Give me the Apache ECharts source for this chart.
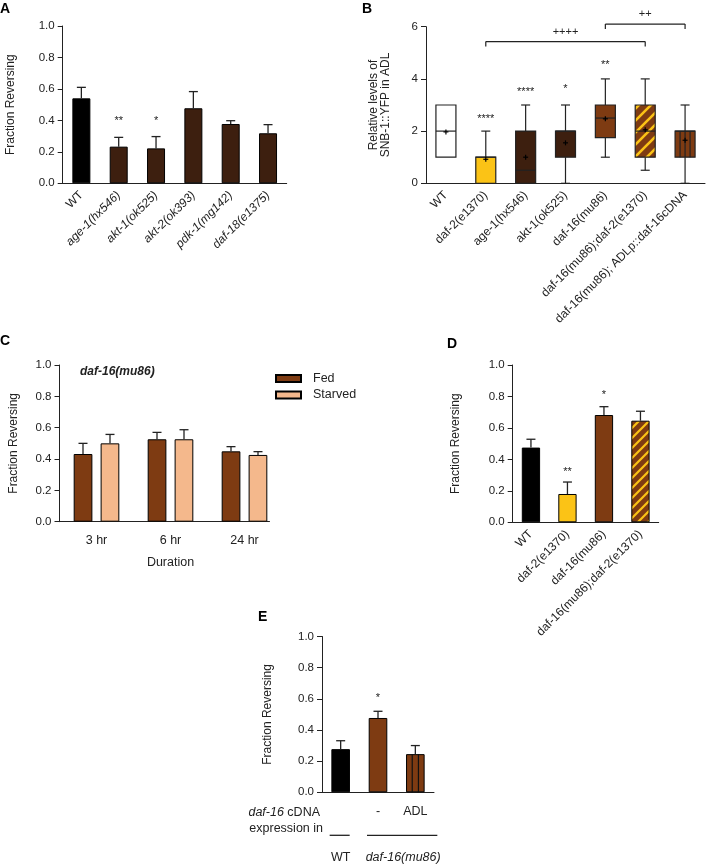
<!DOCTYPE html>
<html><head><meta charset="utf-8">
<script src="https://cdn.jsdelivr.net/npm/echarts@6/dist/echarts.min.js"></script>
<style>html,body{margin:0;padding:0;background:#fff}#c{width:709px;height:865px}</style>
</head><body><div id="c"></div>
<script>
// ---------------- DATA ----------------
// Panel A
const catsA = ['WT', 'age-1(hx546)', 'akt-1(ok525)', 'akt-2(ok393)', 'pdk-1(mg142)', 'daf-18(e1375)'];
const meanA = [0.540, 0.233, 0.222, 0.477, 0.377, 0.318];
const semA  = [0.070, 0.059, 0.075, 0.106, 0.021, 0.055];
const starsA = ['', '**', '*', '', '', ''];
const starYA = [0, 0.413, 0.413, 0, 0, 0];

// Panel B (box plots)
const catsB = ['WT', 'daf-2(e1370)', 'age-1(hx546)', 'akt-1(ok525)', 'daf-16(mu86)', 'daf-16(mu86);daf-2(e1370)', 'daf-16(mu86); ADLp::daf-16cDNA'];
const minB  = [1, 0, 0, 0, 1, 0.5, 0];
const q1B   = [1, 0, 0, 1, 1.75, 1, 1];
const medB  = [2, 1, 0.5, 2, 2.5, 2, 2];
const q3B   = [3, 1, 2, 2, 3, 3, 2];
const maxB  = [3, 2, 3, 3, 4, 4, 3];
const meanB = [1.97, 0.92, 1.0, 1.55, 2.47, 2.05, 1.65];
const starsB = ['', '****', '****', '*', '**', '', ''];
const starYB = [0, 2.59, 3.6, 3.73, 4.66, 0, 0];
const bracketFromB = [1, 4];
const bracketToB   = [5, 6];
const bracketYB    = [5.43, 6.1];
const bracketTxtB  = ['++++', '++'];

// Panel C
const catsC = ['3 hr', '6 hr', '24 hr'];
const fedC = [0.432, 0.526, 0.449];
const fedSemC = [0.068, 0.044, 0.030];
const starvedC = [0.500, 0.526, 0.426];
const starvedSemC = [0.057, 0.061, 0.021];

// Panel D
const catsD = ['WT', 'daf-2(e1370)', 'daf-16(mu86)', 'daf-16(mu86);daf-2(e1370)'];
const meanD = [0.475, 0.180, 0.682, 0.646];
const semD  = [0.053, 0.076, 0.053, 0.060];
const starsD = ['', '**', '*', ''];
const starYD = [0, 0.337, 0.83, 0];

// Panel E
const catsE = ['', '-', 'ADL'];
const meanE = [0.277, 0.477, 0.245];
const semE  = [0.054, 0.043, 0.055];
const starsE = ['', '*', ''];
const starYE = [0, 0.624, 0];
const groupNamesE = ['WT', 'daf-16(mu86)'];
const groupFromE = [0, 1];
const groupToE = [0, 2];

// ---------------- STYLE ----------------
const FONT = "'Liberation Sans', Arial, Helvetica, sans-serif";
const INK = '#222';
const BLACK = '#000';
const DARK = '#3d1f0f';
const BROWN = '#7e3b12';
const YELLOW = '#fbc316';
const PEACH = '#f4b88c';

function stripes(p, lw) {
  const c = document.createElement('canvas');
  c.width = p; c.height = p;
  const g = c.getContext('2d');
  g.fillStyle = BROWN; g.fillRect(0, 0, p, p);
  g.strokeStyle = YELLOW; g.lineWidth = lw;
  g.beginPath();
  g.moveTo(-1, p + 1); g.lineTo(p + 1, -1);
  g.moveTo(-p / 2 - 1, p / 2 + 1); g.lineTo(p / 2 + 1, -p / 2 - 1);
  g.moveTo(p / 2 - 1, 3 * p / 2 + 1); g.lineTo(3 * p / 2 + 1, p / 2 - 1);
  g.stroke();
  return { image: c, repeat: 'repeat' };
}
const stripeB = stripes(12, 2.6);
const stripeD = stripes(10, 2.2);

const fillsB = ['#ffffff', YELLOW, DARK, DARK, BROWN, stripeB, BROWN];

function yAx(grid, max, interval, name, gap, dec) {
  return {
    type: 'value', gridIndex: grid, min: 0, max: max, interval: interval,
    name: name, nameLocation: 'middle', nameGap: gap,
    nameTextStyle: { fontSize: 12, color: INK, fontFamily: FONT, lineHeight: 12.5 },
    axisLine: { show: true, lineStyle: { color: INK, width: 1 } },
    axisTick: { show: true, length: 5, lineStyle: { color: INK, width: 1 } },
    axisLabel: { fontSize: 11.5, color: INK, fontFamily: FONT, margin: 8,
      formatter: v => dec ? v.toFixed(1) : String(v) },
    splitLine: { show: false }
  };
}
function xAx(grid, cats, rotate, margin, extra) {
  return Object.assign({
    type: 'category', gridIndex: grid, data: cats,
    axisTick: { show: false },
    axisLine: { show: true, lineStyle: { color: INK, width: 1 } },
    axisLabel: { interval: 0, rotate: rotate, margin: margin, fontSize: 12, color: INK, fontFamily: FONT },
    splitLine: { show: false }
  }, extra || {});
}
function errSeries(gi, means, sems, offset) {
  return {
    type: 'custom', xAxisIndex: gi, yAxisIndex: gi, z: 5, clip: false, silent: true,
    data: means.map((m, i) => [i, m, sems[i]]),
    renderItem: (params, api) => {
      const i = api.value(0), m = api.value(1), s = api.value(2);
      const a = api.coord([i, m]), b = api.coord([i, m + s]);
      const x = a[0] + offset;
      const st = { stroke: INK, lineWidth: 1.3 };
      return { type: 'group', children: [
        { type: 'line', shape: { x1: x, y1: a[1], x2: x, y2: b[1] }, style: st },
        { type: 'line', shape: { x1: x - 4.5, y1: b[1], x2: x + 4.5, y2: b[1] }, style: st }
      ]};
    }
  };
}
function starSeries(gi, stars, ys) {
  const idx = [], txt = [];
  stars.forEach((s, i) => { if (s) { idx.push([i, ys[i]]); txt.push(s); } });
  return {
    type: 'custom', xAxisIndex: gi, yAxisIndex: gi, z: 6, clip: false, silent: true,
    data: idx,
    renderItem: (params, api) => {
      const p = api.coord([api.value(0), api.value(1)]);
      return { type: 'text', style: { text: txt[params.dataIndex], x: p[0], y: p[1] + 3,
        align: 'center', verticalAlign: 'middle', fontSize: 11, fontFamily: FONT, fill: INK } };
    }
  };
}
function barData(vals, cats, fillFn) {
  return vals.map((v, i) => ({ value: v, itemStyle: { color: fillFn(cats[i], i) } }));
}
const italicRich = { i: { fontStyle: 'italic', fontSize: 12, color: INK, fontFamily: FONT } };

const option = {
  animation: false,
  backgroundColor: '#fff',
  textStyle: { fontFamily: FONT },
  title: [
    { text: 'A', left: 0, top: 2, padding: 0, textStyle: { fontSize: 14, fontWeight: 'bold', color: '#000', fontFamily: FONT } },
    { text: 'B', left: 362, top: 2, padding: 0, textStyle: { fontSize: 14, fontWeight: 'bold', color: '#000', fontFamily: FONT } },
    { text: 'C', left: 0, top: 334, padding: 0, textStyle: { fontSize: 14, fontWeight: 'bold', color: '#000', fontFamily: FONT } },
    { text: 'D', left: 447, top: 337, padding: 0, textStyle: { fontSize: 14, fontWeight: 'bold', color: '#000', fontFamily: FONT } },
    { text: 'E', left: 258, top: 610, padding: 0, textStyle: { fontSize: 14, fontWeight: 'bold', color: '#000', fontFamily: FONT } },
    { text: 'daf-16(mu86)', left: 80, top: 366, padding: 0, textStyle: { fontSize: 12, fontWeight: 'bold', fontStyle: 'italic', color: INK, fontFamily: FONT } }
  ],
  legend: {
    data: ['Fed', 'Starved'], orient: 'vertical', left: 275, top: 372, padding: 0,
    itemWidth: 25, itemHeight: 7, itemGap: 3.5, icon: 'rect',
    textStyle: { fontSize: 12.5, color: INK, fontFamily: FONT, padding: [0, 0, 0, 7] }
  },
  grid: [
    { left: 62.7, top: 26, width: 224, height: 157.3, outerBoundsMode: 'none' },
    { left: 426, top: 26.7, width: 279, height: 156.6, outerBoundsMode: 'none' },
    { left: 59.5, top: 365, width: 222, height: 156.7, outerBoundsMode: 'none' },
    { left: 512.7, top: 365, width: 146, height: 157.3, outerBoundsMode: 'none' },
    { left: 322, top: 636.5, width: 112, height: 155.8, outerBoundsMode: 'none' },
    { left: 59.5, top: 365, width: 210, height: 156.7, outerBoundsMode: 'none' }
  ],
  xAxis: [
    xAx(0, catsA, 45, 10, { axisLabel: { interval: 0, rotate: 45, margin: 10, fontSize: 12, color: INK, fontFamily: FONT,
      formatter: v => v === 'WT' ? v : '{i|' + v + '}', rich: italicRich } }),
    xAx(1, catsB, 45, 10),
    xAx(2, catsC, 0, 12, { axisLine: { show: false }, name: 'Duration', nameLocation: 'middle', nameGap: 34,
      nameTextStyle: { fontSize: 12.5, color: INK, fontFamily: FONT },
      axisLabel: { interval: 0, margin: 12, fontSize: 12.5, color: INK, fontFamily: FONT } }),
    xAx(3, catsD, 45, 10),
    xAx(4, catsE, 0, 13, { axisLabel: { interval: 0, margin: 13, fontSize: 12.5, color: INK, fontFamily: FONT } }),
    { type: 'value', gridIndex: 5, min: 0, max: 1, axisLine: { show: true, onZero: false, lineStyle: { color: INK, width: 1 } },
      axisTick: { show: false }, axisLabel: { show: false }, splitLine: { show: false } }
  ],
  yAxis: [
    yAx(0, 1, 0.2, 'Fraction Reversing', 46, true),
    yAx(1, 6, 2, 'Relative levels of\nSNB-1::YFP in ADL', 34, false),
    yAx(2, 1, 0.2, 'Fraction Reversing', 40, true),
    yAx(3, 1, 0.2, 'Fraction Reversing', 51, true),
    yAx(4, 1, 0.2, 'Fraction Reversing', 48, true),
    { type: 'value', gridIndex: 5, min: 0, max: 1, show: false }
  ],
  graphic: [
    { type: 'text', style: { text: '{i|daf-16} cDNA', x: 320, y: 813, align: 'right', verticalAlign: 'middle',
      fontSize: 12.5, fill: INK, fontFamily: FONT,
      rich: { i: { fontStyle: 'italic', fontSize: 12.5, fill: INK, fontFamily: FONT } } } },
    { type: 'text', style: { text: 'expression in', x: 323, y: 828.5, align: 'right', verticalAlign: 'middle',
      fontSize: 12.5, fill: INK, fontFamily: FONT } }
  ],
  series: [
    // A
    { type: 'bar', xAxisIndex: 0, yAxisIndex: 0, barWidth: 18, silent: true,
      itemStyle: { borderColor: '#000', borderWidth: 1 },
      data: barData(meanA, catsA, c => c === 'WT' ? BLACK : DARK) },
    errSeries(0, meanA, semA, 0),
    starSeries(0, starsA, starYA),
    // B boxes
    { type: 'custom', xAxisIndex: 1, yAxisIndex: 1, clip: false, silent: true,
      data: catsB.map((c, i) => [i, minB[i], q1B[i], medB[i], q3B[i], maxB[i], meanB[i]]),
      renderItem: (params, api) => {
        const i = api.value(0);
        const mn = api.value(1), q1 = api.value(2), md = api.value(3), q3 = api.value(4), mx = api.value(5), mean = api.value(6);
        const X = api.coord([i, 0])[0];
        const Y = v => api.coord([i, v])[1];
        const W = 20, C = 4.5;
        const ls = { stroke: INK, lineWidth: 1.2 };
        const ch = [];
        if (mx > q3) {
          ch.push({ type: 'line', shape: { x1: X, y1: Y(q3), x2: X, y2: Y(mx) }, style: ls });
          ch.push({ type: 'line', shape: { x1: X - C, y1: Y(mx), x2: X + C, y2: Y(mx) }, style: ls });
        }
        if (mn < q1) {
          ch.push({ type: 'line', shape: { x1: X, y1: Y(q1), x2: X, y2: Y(mn) }, style: ls });
          ch.push({ type: 'line', shape: { x1: X - C, y1: Y(mn), x2: X + C, y2: Y(mn) }, style: ls });
        }
        ch.push({ type: 'rect', shape: { x: X - W / 2, y: Y(q3), width: W, height: Y(q1) - Y(q3) },
          style: { fill: fillsB[i], stroke: INK, lineWidth: 1.2 } });
        if (catsB[i].indexOf('ADLp') >= 0) {
          for (let k = 1; k <= 3; k++) {
            const xx = X - W / 2 + W * k / 4;
            ch.push({ type: 'line', shape: { x1: xx, y1: Y(q3), x2: xx, y2: Y(q1) }, style: ls });
          }
        }
        ch.push({ type: 'line', shape: { x1: X - W / 2, y1: Y(md), x2: X + W / 2, y2: Y(md) }, style: ls });
        const my = Y(mean);
        ch.push({ type: 'line', shape: { x1: X - 2.5, y1: my, x2: X + 2.5, y2: my }, style: { stroke: '#000', lineWidth: 1.2 } });
        ch.push({ type: 'line', shape: { x1: X, y1: my - 2.5, x2: X, y2: my + 2.5 }, style: { stroke: '#000', lineWidth: 1.2 } });
        return { type: 'group', children: ch };
      } },
    starSeries(1, starsB, starYB),
    { type: 'custom', xAxisIndex: 1, yAxisIndex: 1, clip: false, silent: true,
      data: bracketFromB.map((f, i) => [f, bracketToB[i], bracketYB[i]]),
      renderItem: (params, api) => {
        const a = api.coord([api.value(0), api.value(2)]);
        const b = api.coord([api.value(1), api.value(2)]);
        const ls = { stroke: INK, lineWidth: 1.2 };
        return { type: 'group', children: [
          { type: 'line', shape: { x1: a[0], y1: a[1], x2: b[0], y2: b[1] }, style: ls },
          { type: 'line', shape: { x1: a[0], y1: a[1], x2: a[0], y2: a[1] + 5 }, style: ls },
          { type: 'line', shape: { x1: b[0], y1: b[1], x2: b[0], y2: b[1] + 5 }, style: ls },
          { type: 'text', style: { text: bracketTxtB[params.dataIndex], x: (a[0] + b[0]) / 2, y: a[1] - 10,
            align: 'center', verticalAlign: 'middle', fontSize: 11, fontFamily: FONT, fill: INK } }
        ]};
      } },
    // C
    { name: 'Fed', type: 'bar', xAxisIndex: 2, yAxisIndex: 2, barWidth: 18.7, barGap: '44%', silent: true,
      itemStyle: { color: BROWN, borderColor: '#000', borderWidth: 1 }, data: fedC },
    { name: 'Starved', type: 'bar', xAxisIndex: 2, yAxisIndex: 2, barWidth: 18.7, barGap: '44%', silent: true,
      itemStyle: { color: PEACH, borderColor: '#000', borderWidth: 1 }, data: starvedC },
    errSeries(2, fedC, fedSemC, -13.5),
    errSeries(2, starvedC, starvedSemC, 13.5),
    // D
    { type: 'bar', xAxisIndex: 3, yAxisIndex: 3, barWidth: 18.3, silent: true,
      itemStyle: { borderColor: '#000', borderWidth: 1 },
      data: barData(meanD, catsD, (c, i) => c === 'WT' ? BLACK : (c === 'daf-2(e1370)' ? YELLOW : (c.indexOf(';') >= 0 ? stripeD : BROWN))) },
    errSeries(3, meanD, semD, 0),
    starSeries(3, starsD, starYD),
    // E
    { type: 'bar', xAxisIndex: 4, yAxisIndex: 4, barWidth: 18.6, silent: true,
      itemStyle: { borderColor: '#000', borderWidth: 1 },
      data: barData(meanE, catsE, (c, i) => i === 0 ? BLACK : BROWN) },
    { type: 'custom', xAxisIndex: 4, yAxisIndex: 4, clip: false, silent: true, z: 4,
      data: catsE.map((c, i) => [i, meanE[i]]).filter(d => catsE[d[0]] === 'ADL'),
      renderItem: (params, api) => {
        const top = api.coord([api.value(0), api.value(1)]);
        const bot = api.coord([api.value(0), 0]);
        const W = 18.6, ch = [];
        for (let k = 1; k <= 2; k++) {
          const xx = top[0] - W / 2 + W * k / 3;
          ch.push({ type: 'line', shape: { x1: xx, y1: top[1], x2: xx, y2: bot[1] }, style: { stroke: '#111', lineWidth: 1.2 } });
        }
        return { type: 'group', children: ch };
      } },
    errSeries(4, meanE, semE, 0),
    starSeries(4, starsE, starYE),
    { type: 'custom', xAxisIndex: 4, yAxisIndex: 4, clip: false, silent: true,
      data: groupFromE.map((f, i) => [f, groupToE[i]]),
      renderItem: (params, api) => {
        const a = api.coord([api.value(0), 0]);
        const b = api.coord([api.value(1), 0]);
        const padL = 11, padR = params.dataIndex === 0 ? 9 : 22;
        const x1 = a[0] - padL, x2 = b[0] + padR, y = a[1] + 43;
        const name = groupNamesE[params.dataIndex];
        return { type: 'group', children: [
          { type: 'line', shape: { x1: x1, y1: y, x2: x2, y2: y }, style: { stroke: INK, lineWidth: 1.3 } },
          { type: 'text', style: { text: name, x: (x1 + x2) / 2 + 1, y: y + 22, align: 'center', verticalAlign: 'middle',
            fontSize: 12.5, fontFamily: FONT, fill: INK, fontStyle: name === 'WT' ? 'normal' : 'italic' } }
        ]};
      } }
  ]
};

const chart = echarts.init(document.getElementById('c'), null, { renderer: 'canvas', width: 709, height: 865 });
chart.setOption(option);
</script>
</body></html>
